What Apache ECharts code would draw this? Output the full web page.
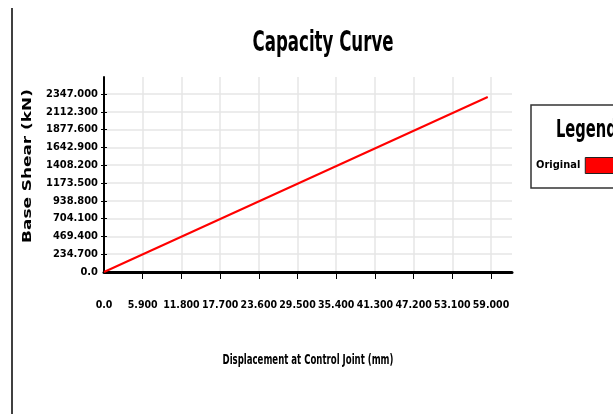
<!DOCTYPE html>
<html>
<head>
<meta charset="utf-8">
<script src="https://cdn.jsdelivr.net/npm/echarts@6/dist/echarts.min.js"></script>
<style>html,body{margin:0;padding:0;background:#fff}#c{width:613px;height:414px}</style>
</head>
<body>
<div id="c"></div>
<script>
var xTicks = [0, 5.9, 11.8, 17.7, 23.6, 29.5, 35.4, 41.3, 47.2, 53.1, 59.0];
var yTicks = [0, 234.7, 469.4, 704.1, 938.8, 1173.5, 1408.2, 1642.9, 1877.6, 2112.3, 2347.0];
var displacement = [0, 58.5];
var baseShear = [0, 2307];
var seriesName = 'Original';
var titleText = 'Capacity Curve';
var legendTitle = 'Legend';
var xName = 'Displacement at Control Joint (mm)';
var yName = 'Base Shear (kN)';

var FONT = '"DejaVu Sans Condensed", "Liberation Sans Narrow", sans-serif';
function fmt(v){ return Math.abs(v) < 1e-9 ? '0.0' : v.toFixed(3); }
var grid12 = [];
for (var i = 0; i < 11; i++) grid12.push('#e6e6e6');
grid12.push('rgba(0,0,0,0)');

var chart = echarts.init(document.getElementById('c'));
chart.setOption({
  animation: false,
  backgroundColor: '#fff',
  legend: {
    data: [seriesName], left: 531, top: 105, orient: 'vertical',
    align: 'right', icon: 'rect', itemWidth: 40, itemHeight: 16,
    padding: [52, 30, 14, 5], borderColor: '#333', borderWidth: 1.5,
    textStyle: {fontFamily: FONT, fontWeight: 'bold', fontSize: 11, color: '#000'},
    itemStyle: {borderColor: '#222', borderWidth: 1}
  },
  graphic: [
    {type: 'line', shape: {x1: 12, y1: 8, x2: 12, y2: 414}, style: {stroke: '#000', lineWidth: 1.5}},
    {type: 'text', x: 323, y: 44, scaleX: 0.66,
     style: {text: titleText, font: 'bold 28px "DejaVu Sans Condensed", sans-serif', fill: '#000', textAlign: 'center', textVerticalAlign: 'middle'}},
    {type: 'text', x: 556, y: 131, scaleX: 0.68,
     style: {text: legendTitle, font: 'bold 24px "DejaVu Sans Condensed", sans-serif', fill: '#000', textAlign: 'left', textVerticalAlign: 'middle'}},
    {type: 'text', x: 308, y: 360, scaleX: 0.68,
     style: {text: xName, font: 'bold 14px "DejaVu Sans Condensed", sans-serif', fill: '#000', textAlign: 'center', textVerticalAlign: 'middle'}},
    {type: 'text', x: 28, y: 166, rotation: Math.PI / 2, scaleX: 1.3,
     style: {text: yName, font: 'bold 13px "DejaVu Sans", sans-serif', fill: '#000', textAlign: 'center', textVerticalAlign: 'middle'}}
  ],
  grid: {left: 104, right: 101, top: 77, bottom: 142},
  xAxis: {
    type: 'value', min: 0, max: 62.2, interval: 5.9,
    axisLine: {show: true, lineStyle: {color: '#000', width: 3}},
    axisTick: {show: true, length: 7, lineStyle: {color: '#000', width: 1}, customValues: xTicks.slice(1)},
    axisLabel: {margin: 28, formatter: fmt, customValues: xTicks, hideOverlap: false, showMaxLabel: true, showMinLabel: true,
      fontFamily: FONT, fontWeight: 'bold', fontSize: 10.5, color: '#000'},
    splitLine: {show: true, lineStyle: {color: grid12, width: 1.5}}
  },
  yAxis: [{
    type: 'value', min: 0, max: 2571, interval: 234.7,
    axisLine: {show: true, lineStyle: {color: '#000', width: 2}},
    axisTick: {show: true, length: 3, lineStyle: {color: '#000', width: 1}, customValues: yTicks.slice(1)},
    axisLabel: {margin: 6, formatter: fmt, customValues: yTicks, showMaxLabel: true, showMinLabel: true,
      fontFamily: FONT, fontWeight: 'bold', fontSize: 11, color: '#000'},
    splitLine: {show: true, lineStyle: {color: grid12, width: 1.5}}
  }, {
    type: 'value', min: 0, max: 2571, interval: 234.7, position: 'left',
    axisLine: {show: false},
    axisTick: {show: true, inside: true, length: 3, lineStyle: {color: '#000', width: 1}, customValues: yTicks.slice(1)},
    axisLabel: {show: false},
    splitLine: {show: false}
  }],
  series: [{
    name: seriesName, type: 'line', showSymbol: false, symbol: 'none',
    data: displacement.map(function(x, i){ return [x, baseShear[i]]; }),
    lineStyle: {color: '#ff0000', width: 2}, itemStyle: {color: '#ff0000'}
  }]
});
</script>
</body>
</html>
